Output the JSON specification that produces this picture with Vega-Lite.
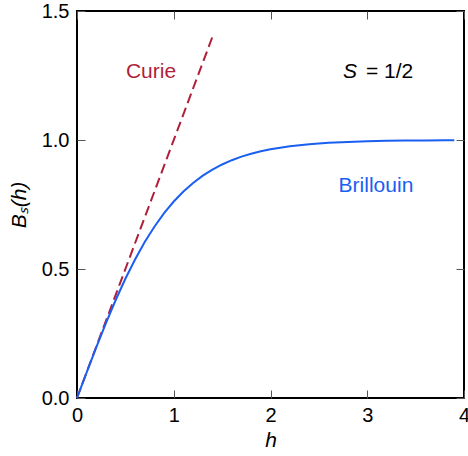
{
  "$schema": "https://vega.github.io/schema/vega-lite/v6.json",
  "width": 387,
  "height": 387,
  "autosize": {"type": "none"},
  "padding": {"left": 77, "top": 11, "right": 4, "bottom": 58},
  "background": "white",
  "config": {
    "view": {"stroke": "black", "strokeWidth": 2},
    "font": "Liberation Sans",
    "axis": {
      "grid": false,
      "domain": false,
      "tickColor": "#555555",
      "tickWidth": 1,
      "tickSize": -8,
      "labelFlush": false,
      "labelOverlap": false,
      "labelFont": "Liberation Sans",
      "labelFontSize": 20,
      "labelColor": "black",
      "titleFont": "Liberation Sans",
      "titleFontSize": 21,
      "titleFontWeight": "normal",
      "titleFontStyle": "italic",
      "titleColor": "black"
    }
  },
  "datasets": {
    "brillouin": [
      {"h": 0, "B": 0}, {"h": 0.1, "B": 0.0997}, {"h": 0.2, "B": 0.1974}, {"h": 0.3, "B": 0.2913},
      {"h": 0.4, "B": 0.3799}, {"h": 0.5, "B": 0.4621}, {"h": 0.6, "B": 0.537}, {"h": 0.7, "B": 0.6044},
      {"h": 0.8, "B": 0.664}, {"h": 0.9, "B": 0.7163}, {"h": 1.0, "B": 0.7616}, {"h": 1.1, "B": 0.8005},
      {"h": 1.2, "B": 0.8337}, {"h": 1.3, "B": 0.8617}, {"h": 1.4, "B": 0.8854}, {"h": 1.5, "B": 0.9051},
      {"h": 1.6, "B": 0.9217}, {"h": 1.7, "B": 0.9354}, {"h": 1.8, "B": 0.9468}, {"h": 1.9, "B": 0.9562},
      {"h": 2.0, "B": 0.964}, {"h": 2.2, "B": 0.9757}, {"h": 2.4, "B": 0.9837}, {"h": 2.6, "B": 0.989},
      {"h": 2.8, "B": 0.9926}, {"h": 3.0, "B": 0.9951}, {"h": 3.2, "B": 0.9967}, {"h": 3.4, "B": 0.9978},
      {"h": 3.6, "B": 0.9985}, {"h": 3.8, "B": 0.999}, {"h": 3.9, "B": 0.9992}
    ],
    "curie": [{"h": 0, "B": 0}, {"h": 1.4, "B": 1.4}],
    "labels": [
      {"h": 0.765, "B": 1.264, "label": "Curie", "kind": "curie"},
      {"h": 3.09, "B": 0.822, "label": "Brillouin", "kind": "brillouin"}
    ]
  },
  "layer": [
    {
      "data": {"name": "curie"},
      "mark": {"type": "line", "color": "#b01f3a", "strokeWidth": 2, "strokeDash": [10, 5]},
      "encoding": {
        "x": {"field": "h", "type": "quantitative", "scale": {"domain": [0, 4], "nice": false},
          "axis": {"title": "h", "values": [0, 1, 2, 3, 4], "format": "d", "labelPadding": 15, "titlePadding": 4}},
        "y": {"field": "B", "type": "quantitative", "scale": {"domain": [0, 1.5], "nice": false},
          "axis": {"title": "Bₛ(h)", "values": [0, 0.5, 1, 1.5], "format": ".1f", "labelPadding": 16, "titlePadding": 12}}
      }
    },
    {
      "data": {"name": "brillouin"},
      "mark": {"type": "line", "color": "#1a5ff2", "strokeWidth": 2},
      "encoding": {
        "x": {"field": "h", "type": "quantitative", "scale": {"domain": [0, 4], "nice": false},
          "axis": {"orient": "top", "title": null, "labels": false, "values": [0, 1, 2, 3, 4]}},
        "y": {"field": "B", "type": "quantitative", "scale": {"domain": [0, 1.5], "nice": false},
          "axis": {"orient": "right", "title": null, "labels": false, "values": [0, 0.5, 1, 1.5]}}
      }
    },
    {
      "data": {"name": "labels"},
      "mark": {"type": "text", "fontSize": 21, "align": "center", "baseline": "middle"},
      "encoding": {
        "x": {"field": "h", "type": "quantitative", "axis": null},
        "y": {"field": "B", "type": "quantitative", "axis": null},
        "text": {"field": "label"},
        "color": {"field": "kind", "type": "nominal", "scale": {"domain": ["curie", "brillouin"], "range": ["#b01f3a", "#1a5ff2"]}, "legend": null}
      }
    },
    {
      "data": {"values": [{"h": 2.894, "B": 1.264, "label": "S"}]},
      "mark": {"type": "text", "fontSize": 21, "fontStyle": "italic", "align": "right", "baseline": "middle", "color": "black"},
      "encoding": {
        "x": {"field": "h", "type": "quantitative", "axis": null},
        "y": {"field": "B", "type": "quantitative", "axis": null},
        "text": {"field": "label"}
      }
    },
    {
      "data": {"values": [{"h": 2.894, "B": 1.264, "label": "= 1/2"}]},
      "mark": {"type": "text", "fontSize": 21, "align": "left", "baseline": "middle", "color": "black", "dx": 9},
      "encoding": {
        "x": {"field": "h", "type": "quantitative", "axis": null},
        "y": {"field": "B", "type": "quantitative", "axis": null},
        "text": {"field": "label"}
      }
    }
  ],
  "resolve": {"axis": {"x": "independent", "y": "independent"}}
}
